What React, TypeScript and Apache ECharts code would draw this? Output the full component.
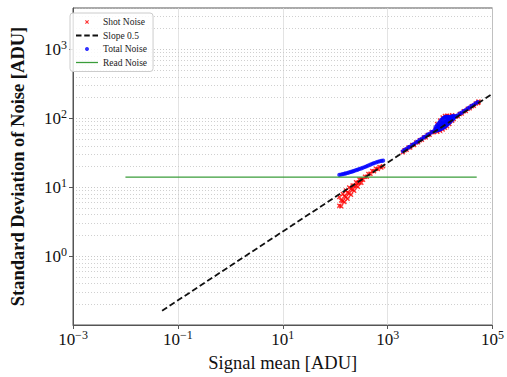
import React, { useEffect, useRef } from 'react';
import * as echarts from 'echarts';

const FONT = 'Liberation Serif';

// Lower-signal segment
const lowSignal = [120, 130, 140, 150, 160, 172, 185, 200, 215, 230, 250, 270, 290, 315, 340, 370, 400, 430, 470, 510, 550, 600, 650, 700, 760, 820];
const lowTotal = [15.1, 15.3, 15.5, 15.7, 15.9, 16.1, 16.4, 16.7, 17.0, 17.3, 17.7, 18.0, 18.4, 18.8, 19.2, 19.7, 20.2, 20.7, 21.3, 21.9, 22.4, 22.9, 23.4, 23.8, 24.1, 24.3];
const lowShotA = [5.4, 6.4, 6.3, 7.4, 7.2, 8.3, 8.2, 9.4, 9.3, 10.5, 10.5, 11.6, 11.6, 12.9, 12.8, 14.2, 14.2, 15.6, 15.7, 17.2, 17.1, 18.5, 18.4, 19.6, 19.4, 20.2];
const lowShotB = [7.2, 5.3, 8.0, 6.1, 9.0, 6.8, 9.9, 7.8, 10.6, 8.9, 11.8, 10.2, 12.9, 11.6];

// Higher-signal segment
const highSignal = [1950, 2100, 2300, 2500, 2700, 2950, 3200, 3500, 3800, 4100, 4500, 4900, 5300, 5800, 6300, 6900, 7500, 8200, 9000, 9800, 10700, 11700, 12800, 14000, 15300, 16700, 18200, 19900, 21700, 23700, 25900, 28300, 30900, 33700, 36800, 40200, 43900, 48000, 52500];
const highTotal = [33.3, 34.9, 36.0, 38.1, 39.0, 41.3, 42.5, 45.0, 46.2, 48.7, 50.3, 53.3, 54.6, 58.0, 59.5, 63.3, 64.8, 69.2, 70.9, 75.6, 77.4, 82.6, 84.8, 90.1, 92.7, 98.3, 101.2, 107.3, 110.6, 116.9, 121.0, 127.6, 132.2, 139.1, 144.3, 151.9, 157.6, 165.9, 172.5];
const highShot = [32.3, 34.5, 34.9, 37.7, 37.8, 40.9, 41.2, 44.6, 44.8, 48.2, 48.8, 52.8, 53.0, 57.4, 57.7, 62.7, 62.9, 68.5, 68.8, 74.8, 75.1, 81.8, 82.3, 89.2, 89.9, 97.3, 98.2, 106.2, 107.3, 115.7, 117.4, 126.3, 128.2, 137.7, 140.0, 150.4, 152.9, 164.2, 167.3];

// Dense cloud around 1e4 ADU
const blobSignal = [8200, 8800, 9400, 10000, 10600, 11200, 11800, 12400, 13000, 13600, 14200, 15000, 16000, 17000, 18200];
const blobUpper = [75, 80, 85, 90, 95, 99, 102, 104, 105, 105, 105, 104, 105, 107, 109];
const blobMid = [70, 73, 77, 80, 83, 86, 88, 90, 92, 93, 94, 95, 97, 100, 104];
const blobLower = [66, 67, 68, 69, 71, 72, 74, 76, 78, 80, 83, 86, 90, 95, 100];
const blobShotSignal = [8800, 10000, 11200, 12400, 13600, 15000, 17000, 54000];
const blobShotUpper = [83, 93, 103, 108, 109, 108, 111, 176];
const blobShotLower = [64, 66, 69, 73, 77, 83, 92, 170];

const slopeLine: [number, number][] = [[0.05, 0.161], [100000, 228]];
const readNoise: [number, number][] = [[0.01, 14], [50000, 14]];

const minorY = [0.2, 0.3, 0.4, 0.5, 0.6, 0.7, 0.8, 0.9, 2, 3, 4, 5, 6, 7, 8, 9, 20, 30, 40, 50, 60, 70, 80, 90, 200, 300, 400, 500, 600, 700, 800, 900, 2000, 3000];

const zip = (xs: number[], ys: number[]) => ys.map((y, i) => [xs[i], y]);

const fmtPow = (v: number) => {
  const e = Math.round(Math.log10(v));
  return `{b|10}{s|${e < 0 ? '\u2212' + Math.abs(e) : e}}`;
};
const rich = {
  b: { fontSize: 17, fontFamily: FONT, color: '#111', lineHeight: 20 },
  s: { fontSize: 12, fontFamily: FONT, color: '#111', lineHeight: 10, verticalAlign: 'top' },
};

const XPATH = 'path://M0,2L2,0L5,3L8,0L10,2L7,5L10,8L8,10L5,7L2,10L0,8L3,5Z';
const DASH_ICON = 'path://M0,0H6V2H0Z M9,0H15V2H9Z M18,0H24V2H18Z';
const LINE_ICON = 'path://M0,0H24V1.4H0Z';

export default function App() {
  const ref = useRef<HTMLDivElement>(null);
  useEffect(() => {
    const chart = echarts.init(ref.current!, undefined, { renderer: 'svg' });
    const shotData = [
      ...zip(lowSignal, lowShotA),
      ...zip(lowSignal.slice(0, lowShotB.length), lowShotB),
      ...zip(highSignal, highShot),
      ...zip(blobShotSignal, blobShotUpper),
      ...zip(blobShotSignal, blobShotLower),
    ];
    const totalData = [
      ...zip(lowSignal, lowTotal),
      ...zip(highSignal, highTotal),
      ...zip(blobSignal, blobUpper),
      ...zip(blobSignal, blobMid),
      ...zip(blobSignal, blobLower),
    ];
    chart.setOption({
      animation: false,
      backgroundColor: '#fff',
      grid: { left: 67, right: 10, top: 8, bottom: 49, show: true, borderColor: '#555', borderWidth: 1, backgroundColor: 'transparent' },
      legend: {
        orient: 'vertical',
        left: 70,
        top: 13,
        padding: [4, 6, 4, 6],
        itemWidth: 22,
        itemHeight: 4,
        itemGap: 3.5,
        itemTextGap: 4,
        borderColor: '#ccc',
        borderWidth: 1,
        borderRadius: 3,
        backgroundColor: 'rgba(255,255,255,0.85)',
        textStyle: { fontFamily: FONT, fontSize: 9.5, color: '#222', lineHeight: 10 },
        data: [
          { name: 'Shot Noise', icon: XPATH },
          { name: 'Slope 0.5', icon: DASH_ICON },
          { name: 'Total Noise', icon: 'circle' },
          { name: 'Read Noise', icon: LINE_ICON },
        ],
      },
      xAxis: {
        type: 'log',
        logBase: 10,
        min: 0.001,
        max: 100000,
        interval: 2,
        name: 'Signal mean [ADU]',
        nameLocation: 'middle',
        nameGap: 28,
        nameTextStyle: { fontFamily: FONT, fontSize: 18.5, color: '#111' },
        axisLine: { lineStyle: { color: '#555' } },
        axisTick: { show: true, length: 4, lineStyle: { color: '#555' } },
        axisLabel: { formatter: fmtPow, rich, margin: 4 },
        splitLine: { show: true, lineStyle: { color: '#dcdcdc', width: 0.8 } },
      },
      yAxis: {
        type: 'log',
        logBase: 10,
        min: 0.1,
        max: 4000,
        interval: 1,
        name: 'Standard Deviation of Noise [ADU]',
        nameLocation: 'middle',
        nameGap: 46,
        nameTextStyle: { fontFamily: FONT, fontSize: 18.5, fontWeight: 'bold', color: '#111' },
        axisLine: { lineStyle: { color: '#555' } },
        axisTick: { show: true, length: 4, lineStyle: { color: '#555' } },
        axisLabel: { formatter: fmtPow, rich, margin: 6, showMinLabel: false, showMaxLabel: false },
        splitLine: { show: true, lineStyle: { color: '#bbb', width: 0.8, type: [1, 2] } },
      },
      series: [
        {
          name: 'Shot Noise',
          type: 'scatter',
          symbol: XPATH,
          symbolSize: 5,
          itemStyle: { color: '#ff0000' },
          data: shotData,
          markLine: {
            silent: true,
            symbol: 'none',
            label: { show: false },
            lineStyle: { color: '#c4c4c4', width: 0.8, type: [1, 2] },
            data: minorY.map((v) => ({ yAxis: v })),
            z: 0,
          },
        },
        {
          name: 'Slope 0.5',
          type: 'line',
          symbol: 'none',
          showSymbol: false,
          lineStyle: { color: '#111', width: 1.8, type: [6, 3] },
          itemStyle: { color: '#111' },
          data: slopeLine,
        },
        {
          name: 'Total Noise',
          type: 'scatter',
          symbol: 'circle',
          symbolSize: 4.2,
          itemStyle: { color: '#0000ff' },
          data: totalData,
        },
        {
          name: 'Read Noise',
          type: 'line',
          symbol: 'none',
          showSymbol: false,
          lineStyle: { color: '#3a9d3a', width: 1.3 },
          itemStyle: { color: '#3a9d3a' },
          data: readNoise,
        },
      ],
    });
    return () => chart.dispose();
  }, []);
  return <div ref={ref} style={{ position: 'fixed', left: 0, top: 0, width: 507, height: 377, background: '#fff' }} />;
}
